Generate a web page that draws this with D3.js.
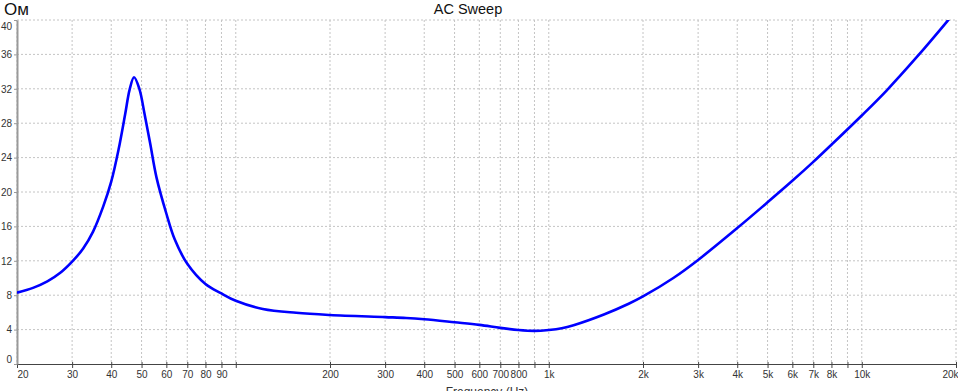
<!DOCTYPE html>
<html>
<head>
<meta charset="utf-8">
<script src="https://cdn.jsdelivr.net/npm/d3@7"></script>
<style>
  body { margin: 0; background: #fff; }
  svg { display: block; font-family: "Liberation Sans", Arial, sans-serif; }
</style>
</head>
<body>
<div id="container"></div>
<script>
/* DATA */
const freqs = [20, 22.5, 25, 27.5, 30, 32.5, 35, 37.7, 40, 42.2, 44.3, 45.8, 47.3, 49.2, 51.1, 53.3, 55.8, 60, 63.8, 70, 80, 90,
  100, 122, 156, 200, 300, 350, 400, 500, 600, 700, 800, 900, 1000, 1100, 1200, 1500, 1800, 2000,
  2500, 3000, 4000, 5000, 6000, 7000, 8000, 10000, 12000, 15000, 18800, 20000];
const ohms = [8.3, 8.85, 9.6, 10.6, 11.9, 13.4, 15.4, 18.3, 21.2, 24.9, 29.0, 31.9, 33.35, 32.0, 29.1, 25.6, 21.7, 17.5, 14.5, 11.65, 9.3, 8.2,
  7.35, 6.4, 5.95, 5.7, 5.45, 5.35, 5.2, 4.85, 4.55, 4.2, 3.95, 3.85, 3.95, 4.15, 4.5, 5.75, 7.0, 7.85,
  10.0, 12.1, 15.8, 18.8, 21.3, 23.5, 25.5, 28.9, 31.8, 35.7, 39.9, 41.1];
const xTicks = [20, 30, 40, 50, 60, 70, 80, 90, 100, 200, 300, 400, 500, 600, 700, 800, 900,
  1000, 2000, 3000, 4000, 5000, 6000, 7000, 8000, 9000, 10000, 20000];
const xTickLabels = ["20", "30", "40", "50", "60", "70", "80", "90", "", "200", "300", "400", "500", "600", "700", "800", "",
  "1k", "2k", "3k", "4k", "5k", "6k", "7k", "8k", "", "10k", "20k"];
const yTicks = [0, 4, 8, 12, 16, 20, 24, 28, 32, 36, 40];

/* LAYOUT */
const W = 958, H = 391;
const margin = { top: 20, right: 2, bottom: 27, left: 17 };
const width = W - margin.left - margin.right;
const height = H - margin.top - margin.bottom;

const svg = d3.select('#container')
  .append('svg')
  .attr("width", W)
  .attr("height", H);

const chart = svg.append('g')
  .attr("transform", `translate(${margin.left}, ${margin.top})`);

const xScale = d3.scaleLog().domain([20, 20000]).range([0, width]);
const yScale = d3.scaleLinear().domain([0, 40]).range([height, 0]);

// clip for the curve
svg.append("defs").append("clipPath").attr("id", "plotclip")
  .append("rect").attr("x", 0).attr("y", 0).attr("width", width).attr("height", height);

// Gridlines
chart.append("g").selectAll("line")
  .data(xTicks)
  .join("line")
  .attr("x1", d => xScale(d)).attr("x2", d => xScale(d))
  .attr("y1", 0).attr("y2", height)
  .attr("stroke", "#c4c4c4")
  .attr("stroke-dasharray", "2,2");

chart.append("g").selectAll("line")
  .data(yTicks.filter(d => d > 0))
  .join("line")
  .attr("x1", 0).attr("x2", width)
  .attr("y1", d => yScale(d)).attr("y2", d => yScale(d))
  .attr("stroke", "#c4c4c4")
  .attr("stroke-dasharray", "2,2");

// X axis
const xAxis = chart.append("g")
  .attr("transform", `translate(0,${height})`)
  .call(d3.axisBottom(xScale)
    .tickValues(xTicks)
    .tickFormat((d, i) => xTickLabels[i])
    .tickSizeInner(4)
    .tickSizeOuter(0)
    .tickPadding(3));
xAxis.select(".domain").attr("stroke", "#444");
xAxis.selectAll(".tick line").attr("stroke", "#444").attr("y1", -2);
xAxis.selectAll(".tick text")
  .attr("fill", "#333")
  .attr("font-size", 10)
  .attr("font-family", "Liberation Sans, Arial, sans-serif");
xAxis.selectAll(".tick text").filter(d => d === 20).attr("text-anchor", "start").attr("dx", 0);
xAxis.selectAll(".tick text").filter(d => d === 20000).attr("text-anchor", "end").attr("dx", 2);

// Y axis
const yAxis = chart.append("g")
  .call(d3.axisLeft(yScale)
    .tickValues(yTicks)
    .tickSizeInner(3)
    .tickSizeOuter(0)
    .tickPadding(2));
yAxis.select(".domain").attr("stroke", "#999").attr("stroke-width", 2);
yAxis.selectAll(".tick line").attr("stroke", "#999");
yAxis.selectAll(".tick text")
  .attr("fill", "#333")
  .attr("font-size", 10)
  .attr("font-family", "Liberation Sans, Arial, sans-serif");
yAxis.selectAll(".tick text").filter(d => d === 40).attr("dy", "0.95em");
yAxis.selectAll(".tick text").filter(d => d === 0).attr("dy", "-0.15em");

// Impedance curve
const line = d3.line()
  .x(d => xScale(d[0]))
  .y(d => yScale(d[1]))
  .curve(d3.curveCatmullRom.alpha(0.5));

chart.append("path")
  .datum(freqs.map((f, i) => [f, ohms[i]]))
  .attr("clip-path", "url(#plotclip)")
  .attr("fill", "none")
  .attr("stroke", "#0000ff")
  .attr("stroke-width", 2.6)
  .attr("stroke-linejoin", "round")
  .attr("d", line);

// Title
svg.append("text")
  .attr("x", 468)
  .attr("y", 14)
  .attr("text-anchor", "middle")
  .attr("font-size", 14.5)
  .attr("fill", "#111")
  .text("AC Sweep");

// Unit label
svg.append("text")
  .attr("x", 4)
  .attr("y", 15)
  .attr("font-size", 17)
  .attr("fill", "#111")
  .text("Ом");

// X-axis label
svg.append("text")
  .attr("x", 487)
  .attr("y", 396)
  .attr("text-anchor", "middle")
  .attr("font-size", 12)
  .attr("fill", "#333")
  .text("Frequency (Hz)");
</script>
</body>
</html>
